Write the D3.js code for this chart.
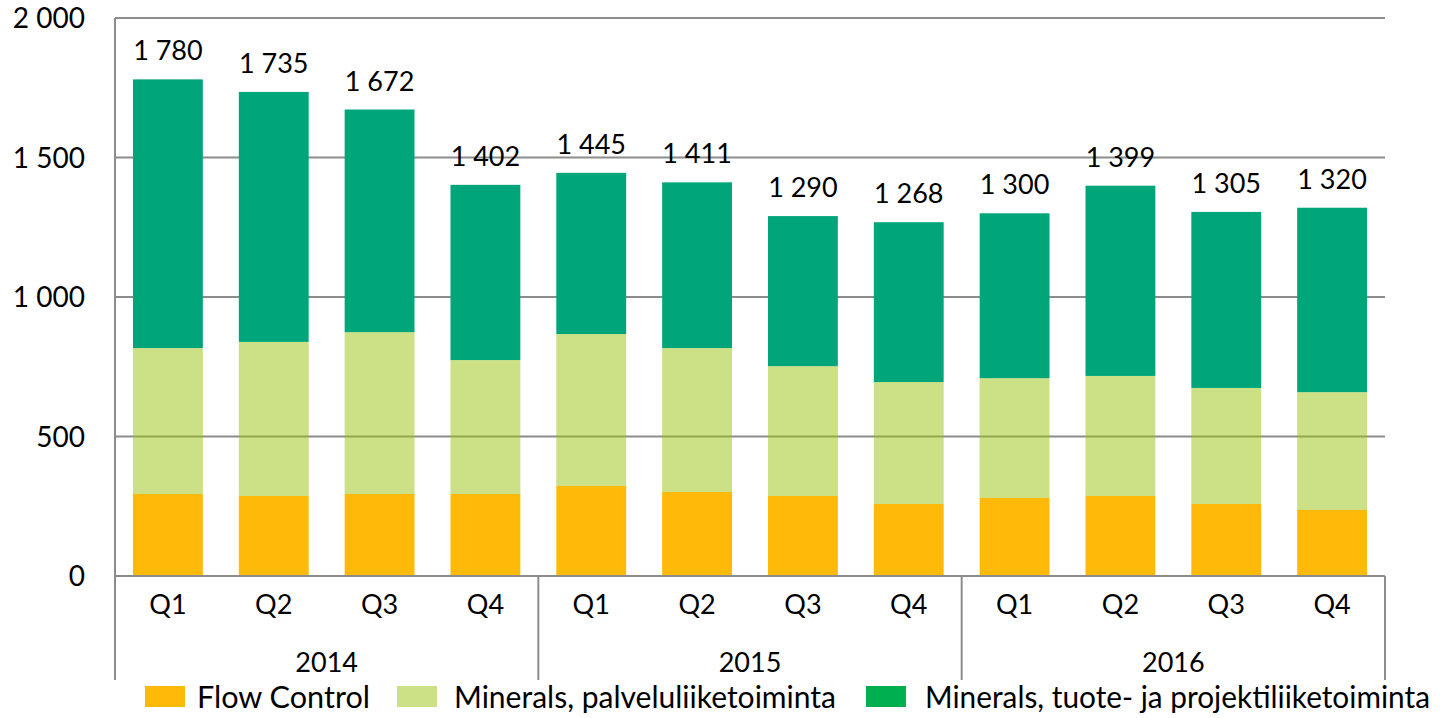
<!DOCTYPE html>
<html>
<head>
<meta charset="utf-8">
<script src="https://cdn.jsdelivr.net/npm/d3@7"></script>
<style>
  body { margin: 0; background: #fff; }
  svg text { font-family: Lato, "Open Sans", sans-serif; fill: #000; }
</style>
</head>
<body>
<svg id="chart" width="1440" height="718"></svg>
<script>
// data
var years = ['2014', '2015', '2016'],
    quarters = ['Q1', 'Q2', 'Q3', 'Q4'],
    totals = [1780, 1735, 1672, 1402, 1445, 1411, 1290, 1268, 1300, 1399, 1305, 1320],
    flowControl = [294, 287, 294, 294, 323, 301, 287, 258, 280, 287, 258, 237],
    mineralsService = [523, 552, 580, 480, 544, 516, 465, 437, 429, 430, 416, 422],
    mineralsProducts = [963, 896, 798, 628, 578, 594, 538, 573, 591, 682, 631, 661],
    seriesNames = ['Flow Control', 'Minerals, palveluliiketoiminta', 'Minerals, tuote- ja projektiliiketoiminta'],
    yTicks = [0, 500, 1000, 1500, 2000];

var plotLeft = 115, plotRight = 1385, plotTop = 18, plotBottom = 576,
    axisColor = '#8c8c8c',
    barFills = ['#ffb909', '#99c10b', '#00a679'],
    barOpacity = [1, 0.5, 1], // light green lets the gridline show through, like the original
    legendFills = ['#ffb909', '#cce086', '#00b050'];

var svg = d3.select('#chart');

var cats = [];
years.forEach(function(y) {
    quarters.forEach(function(q) { cats.push(y + '-' + q); });
});

var rows = cats.map(function(c, i) {
    return { key: c, q: c.split('-')[1], fc: flowControl[i], svc: mineralsService[i], prod: mineralsProducts[i], total: totals[i] };
});

var x = d3.scaleBand()
    .domain(cats)
    .range([plotLeft, plotRight])
    .paddingInner(0.34)
    .paddingOuter(0.17);

var y = d3.scaleLinear()
    .domain([0, 2000])
    .range([plotBottom, plotTop]);

var fmt = function(v) { return d3.format(',')(v).replace(',', ' '); };

// gridlines
svg.append('g')
    .selectAll('line')
    .data(yTicks.slice(1))
    .enter().append('line')
    .attr('x1', plotLeft)
    .attr('x2', plotRight)
    .attr('y1', function(d) { return y(d); })
    .attr('y2', function(d) { return y(d); })
    .attr('stroke', axisColor)
    .attr('stroke-width', 2);

// stacked bars
var stack = d3.stack().keys(['fc', 'svc', 'prod'])(rows);

svg.append('g')
    .selectAll('g')
    .data(stack)
    .enter().append('g')
    .attr('fill', function(d, i) { return barFills[i]; })
    .attr('fill-opacity', function(d, i) { return barOpacity[i]; })
    .selectAll('rect')
    .data(function(d) { return d; })
    .enter().append('rect')
    .attr('x', function(d) { return x(d.data.key); })
    .attr('width', x.bandwidth())
    .attr('y', function(d) { return y(d[1]); })
    .attr('height', function(d) { return y(d[0]) - y(d[1]); });

// total labels
svg.append('g')
    .selectAll('text')
    .data(rows)
    .enter().append('text')
    .attr('x', function(d) { return x(d.key) + x.bandwidth() / 2; })
    .attr('y', function(d) { return y(d.total) - 19; })
    .attr('text-anchor', 'middle')
    .style('font-size', '27px')
    .text(function(d) { return fmt(d.total); });

// y axis labels
svg.append('g')
    .selectAll('text')
    .data(yTicks)
    .enter().append('text')
    .attr('x', 85)
    .attr('y', function(d) { return y(d) + 10; })
    .attr('text-anchor', 'end')
    .style('font-size', '28px')
    .text(fmt);

// axis frame
var frame = svg.append('g')
    .attr('stroke', axisColor)
    .attr('stroke-width', 2);

frame.append('line')
    .attr('x1', plotLeft).attr('x2', plotLeft)
    .attr('y1', plotTop).attr('y2', 680);

frame.append('line')
    .attr('x1', plotLeft).attr('x2', plotRight)
    .attr('y1', plotBottom).attr('y2', plotBottom);

// year separators
var yearEdges = years.map(function(yr) {
    return x(yr + '-Q4') + x.bandwidth() + x.step() * 0.17;
});

frame.selectAll('.sep')
    .data(yearEdges)
    .enter().append('line')
    .attr('class', 'sep')
    .attr('x1', function(d) { return d; })
    .attr('x2', function(d) { return d; })
    .attr('y1', plotBottom)
    .attr('y2', 680);

// quarter labels
svg.append('g')
    .selectAll('text')
    .data(rows)
    .enter().append('text')
    .attr('x', function(d) { return x(d.key) + x.bandwidth() / 2; })
    .attr('y', 614)
    .attr('text-anchor', 'middle')
    .style('font-size', '27px')
    .text(function(d) { return d.q; });

// year labels
svg.append('g')
    .selectAll('text')
    .data(years)
    .enter().append('text')
    .attr('x', function(d) {
        return (x(d + '-Q1') + x(d + '-Q4') + x.bandwidth()) / 2;
    })
    .attr('y', 672)
    .attr('text-anchor', 'middle')
    .style('font-size', '27px')
    .text(function(d) { return d; });

// legend
var legendX = [145, 397, 866];

var legend = svg.append('g')
    .selectAll('g')
    .data(seriesNames)
    .enter().append('g')
    .attr('transform', function(d, i) { return 'translate(' + legendX[i] + ',686)'; });

legend.append('rect')
    .attr('width', 40)
    .attr('height', 21)
    .attr('fill', function(d, i) { return legendFills[i]; });

legend.append('text')
    .attr('x', function(d, i) { return i == 0 ? 52 : (i == 1 ? 57 : 59); })
    .attr('y', 22)
    .style('font-size', '30px')
    .attr('textLength', function(d, i) { return [173, 382, 505][i]; })
    .attr('lengthAdjust', 'spacingAndGlyphs')
    .text(function(d) { return d; });
</script>
</body>
</html>
